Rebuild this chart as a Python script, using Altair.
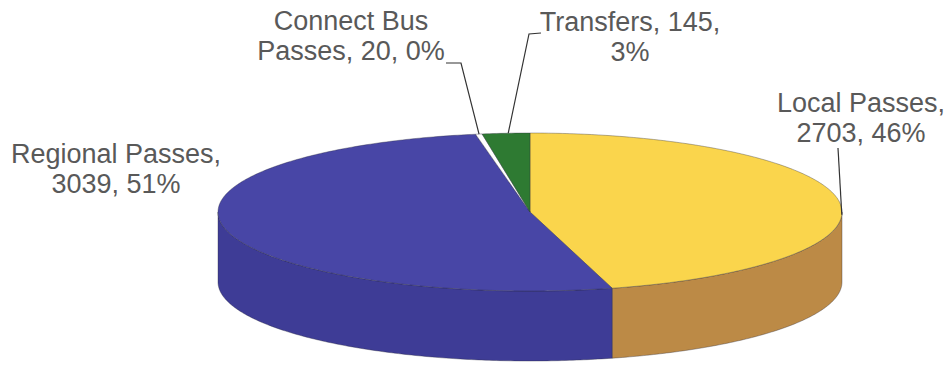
import math
import pandas as pd
import altair as alt

# ---- data (clockwise from 12 o'clock) ----
categories = ["Local Passes", "Regional Passes", "Connect Bus Passes", "Transfers"]
values = [2703, 3039, 20, 145]
percents = [46, 51, 0, 3]

# ---- styles ----
top_colors = ["#FAD54C", "#4846A6", "#FFFFFF", "#2E7A32"]
side_colors = ["#BC8A46", "#3E3C96", "#DDDDDD", "#245F27"]

# ---- layout (pixel space of the 949x365 view) ----
W, H = 949, 365
CX, CY = 530, 212
A, B = 312, 79
PERSP = 0.0
DEPTH = 70
label_pos = {  # centre of the first label line
    "Local Passes": (861, 104),
    "Regional Passes": (116, 155),
    "Connect Bus Passes": (351, 22),
    "Transfers": (630, 23),
}
leader_anchor = {  # where each leader starts next to its label, and the angle it touches on the pie
    "Local Passes": ([(838, 148)], 92),
    "Connect Bus Passes": ([(446, 63), (461, 63)], 350.6),
    "Transfers": ([(541, 33), (529, 34)], 356.0),
}


def proj(theta_deg):
    t = math.radians(theta_deg)
    u, v = math.sin(t), math.cos(t)
    k = 1.0 / (1.0 + PERSP * v)
    return CX + A * u * k, CY - B * v * k


total = sum(values)
starts, ends = [], []
acc = 0.0
for v in values:
    starts.append(acc / total * 360)
    acc += v
    ends.append(acc / total * 360)

vis_lo = math.degrees(math.acos(-PERSP))
vis_hi = 360 - vis_lo


def arc(s, e):
    n = max(2, int(abs(e - s) * 1.5))
    return [s + (e - s) * i / n for i in range(n + 1)]


top_rows, side_rows = [], []
for cat, s, e in zip(categories, starts, ends):
    pts = [(CX, CY)] + [proj(t) for t in arc(s, e)] + [(CX, CY)]
    for i, (x, y) in enumerate(pts):
        top_rows.append({"category": cat, "idx": i, "x": x, "y": y})
    lo, hi = max(s, vis_lo), min(e, vis_hi)
    if hi > lo:
        upper = [proj(t) for t in arc(lo, hi)]
        lower = [(x, y + DEPTH) for (x, y) in reversed(upper)]
        poly = upper + lower + [upper[0]]
        for i, (x, y) in enumerate(poly):
            side_rows.append({"category": cat, "idx": i, "x": x, "y": y})

top_df = pd.DataFrame(top_rows)
side_df = pd.DataFrame(side_rows)


def wrap(text):
    w = text.split(" ")
    return " ".join(w[:2]) + "\n" + " ".join(w[2:])


label_df = pd.DataFrame({
    "category": categories,
    "text": [wrap(f"{c}, {v}, {p}%") for c, v, p in zip(categories, values, percents)],
    "x": [label_pos[c][0] for c in categories],
    "y": [label_pos[c][1] for c in categories],
})

lead_rows = []
for cat, (pts, ang) in leader_anchor.items():
    allpts = pts + [proj(ang)]
    for i, (x, y) in enumerate(allpts):
        lead_rows.append({"category": cat, "idx": i, "x": x, "y": y})
lead_df = pd.DataFrame(lead_rows)

xs = alt.Scale(domain=[0, W], nice=False, zero=False)
ys = alt.Scale(domain=[H, 0], nice=False, zero=False)
X = alt.X("x:Q", scale=xs, axis=None)
Y = alt.Y("y:Q", scale=ys, axis=None)

side = alt.Chart(side_df).mark_line(stroke="#2a2a3a", strokeWidth=0.6, strokeOpacity=0.6).encode(
    x=X, y=Y, order=alt.Order("idx:Q"), detail="category:N",
    fill=alt.Fill("category:N", scale=alt.Scale(domain=categories, range=side_colors), legend=None),
)
top = alt.Chart(top_df).mark_line(stroke="#2a2a3a", strokeWidth=0.6, strokeOpacity=0.6).encode(
    x=X, y=Y, order=alt.Order("idx:Q"), detail="category:N",
    fill=alt.Fill("category:N", scale=alt.Scale(domain=categories, range=top_colors), legend=None),
)
leaders = alt.Chart(lead_df).mark_line(color="#333333", strokeWidth=1.2).encode(
    x=X, y=Y, order=alt.Order("idx:Q"), detail="category:N",
)
labels = alt.Chart(label_df).mark_text(
    font="Liberation Sans", fontSize=27, color="#595959", align="center",
    baseline="middle", lineBreak="\n", lineHeight=30,
).encode(x=X, y=Y, text="text:N")

chart = alt.layer(side, top, leaders, labels).resolve_scale(fill="independent").properties(
    width=W, height=H, padding=0, autosize=alt.AutoSizeParams(type="none"),
).configure_view(stroke=None)

chart.save("out.html", embed_options={"renderer": "svg", "actions": False})
